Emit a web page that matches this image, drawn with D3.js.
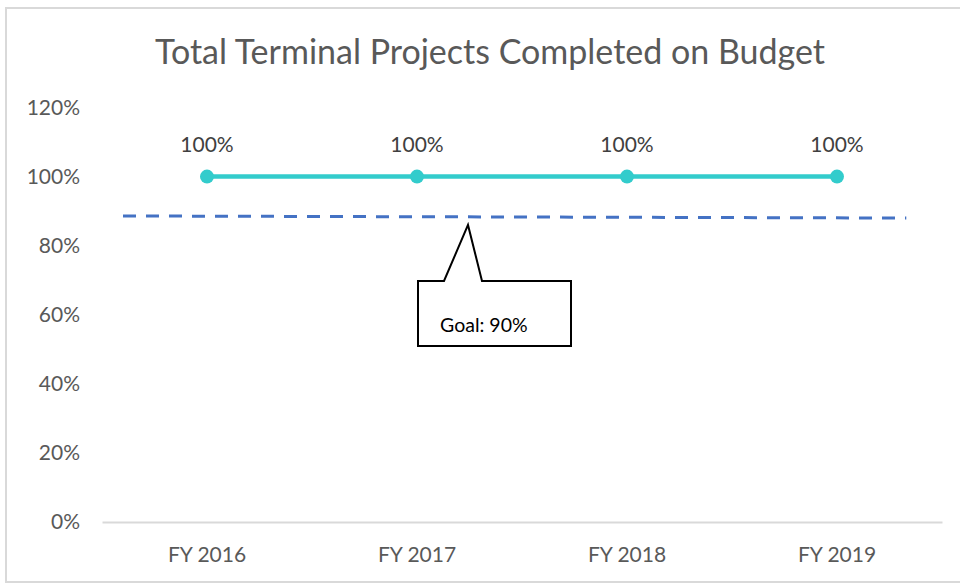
<!DOCTYPE html>
<html><head><meta charset="utf-8">
<script src="https://cdn.jsdelivr.net/npm/d3@7"></script>
<style>body{margin:0;background:#fff;}svg{display:block;}</style>
</head><body>
<svg id="c" width="960" height="585"></svg>
<script>
const categories = ["FY 2016", "FY 2017", "FY 2018", "FY 2019"];
const values = [1.0, 1.0, 1.0, 1.0];
const yTicks = [0, 0.2, 0.4, 0.6, 0.8, 1.0, 1.2];
const goalValues = [0.886, 0.880]; // dashed goal line as drawn (left, right)
const goalLabel = "Goal: 90%";
const title = "Total Terminal Projects Completed on Budget";

const svg = d3.select("#c");
const font = "Lato, 'Open Sans', sans-serif";

// outer frame
svg.append("rect").attr("x", 6).attr("y", 8).attr("width", 970).attr("height", 574)
  .attr("fill", "#fff").attr("stroke", "#d9d9d9").attr("stroke-width", 2);

const x = d3.scaleBand().domain(categories).range([102, 942]);
const y = d3.scaleLinear().domain([0, 1.2]).range([522, 107.5]);

svg.append("text").attr("x", 490).attr("y", 64).attr("text-anchor", "middle")
  .attr("font-family", font).attr("font-size", 34).attr("fill", "#595959").text(title);

// y axis labels
svg.append("g").selectAll("text").data(yTicks).join("text")
  .attr("x", 80).attr("y", d => y(d)).attr("dy", "0.35em").attr("text-anchor", "end")
  .attr("font-family", font).attr("font-size", 21).attr("fill", "#595959")
  .text(d => d3.format(".0%")(d));

// x axis
const xAxis = svg.append("g").attr("transform", `translate(0,${y(0)})`)
  .call(d3.axisBottom(x).tickSize(0).tickPadding(25));
xAxis.select(".domain").attr("stroke", "#d9d9d9").attr("stroke-width", 2);
xAxis.selectAll("text").attr("font-family", font).attr("font-size", 21).attr("fill", "#595959");

// goal dashed line
const gx0 = x.range()[0] + x.bandwidth() * 0.1, gx1 = x(categories[3]) + x.bandwidth() * 0.83;
svg.append("line").attr("x1", gx0).attr("x2", gx1)
  .attr("y1", y(goalValues[0])).attr("y2", y(goalValues[1]))
  .attr("stroke", "#4472C4").attr("stroke-width", 3).attr("stroke-dasharray", "13,10");

// data line
const cx = d => x(d) + x.bandwidth() / 2;
svg.append("path").datum(values.map((v, i) => [categories[i], v]))
  .attr("fill", "none").attr("stroke", "#33CCCC").attr("stroke-width", 4.5)
  .attr("d", d3.line().x(d => cx(d[0])).y(d => y(d[1])));
svg.append("g").selectAll("circle").data(values).join("circle")
  .attr("cx", (d, i) => cx(categories[i])).attr("cy", d => y(d)).attr("r", 7)
  .attr("fill", "#33CCCC");
svg.append("g").selectAll("text").data(values).join("text")
  .attr("x", (d, i) => cx(categories[i])).attr("y", d => y(d) - 25)
  .attr("text-anchor", "middle").attr("font-family", font).attr("font-size", 21)
  .attr("fill", "#404040").text(d => d3.format(".0%")(d));

// callout
const tipX = cx(categories[1]) + 51;
const tipY = y(goalValues[0]) + 9;
const bx0 = tipX - 50, bx1 = tipX + 103, by0 = tipY + 56, by1 = tipY + 121;
const callout = [[bx0, by0], [tipX - 24, by0], [tipX, tipY], [tipX + 14, by0], [bx1, by0], [bx1, by1], [bx0, by1]];
svg.append("path").attr("d", d3.line()(callout) + "Z")
  .attr("fill", "#fff").attr("stroke", "#000").attr("stroke-width", 2);
svg.append("text").attr("x", bx0 + 22).attr("y", by0 + 51)
  .attr("font-family", font).attr("font-size", 19.5).attr("fill", "#000").text(goalLabel);
</script>
</body></html>
